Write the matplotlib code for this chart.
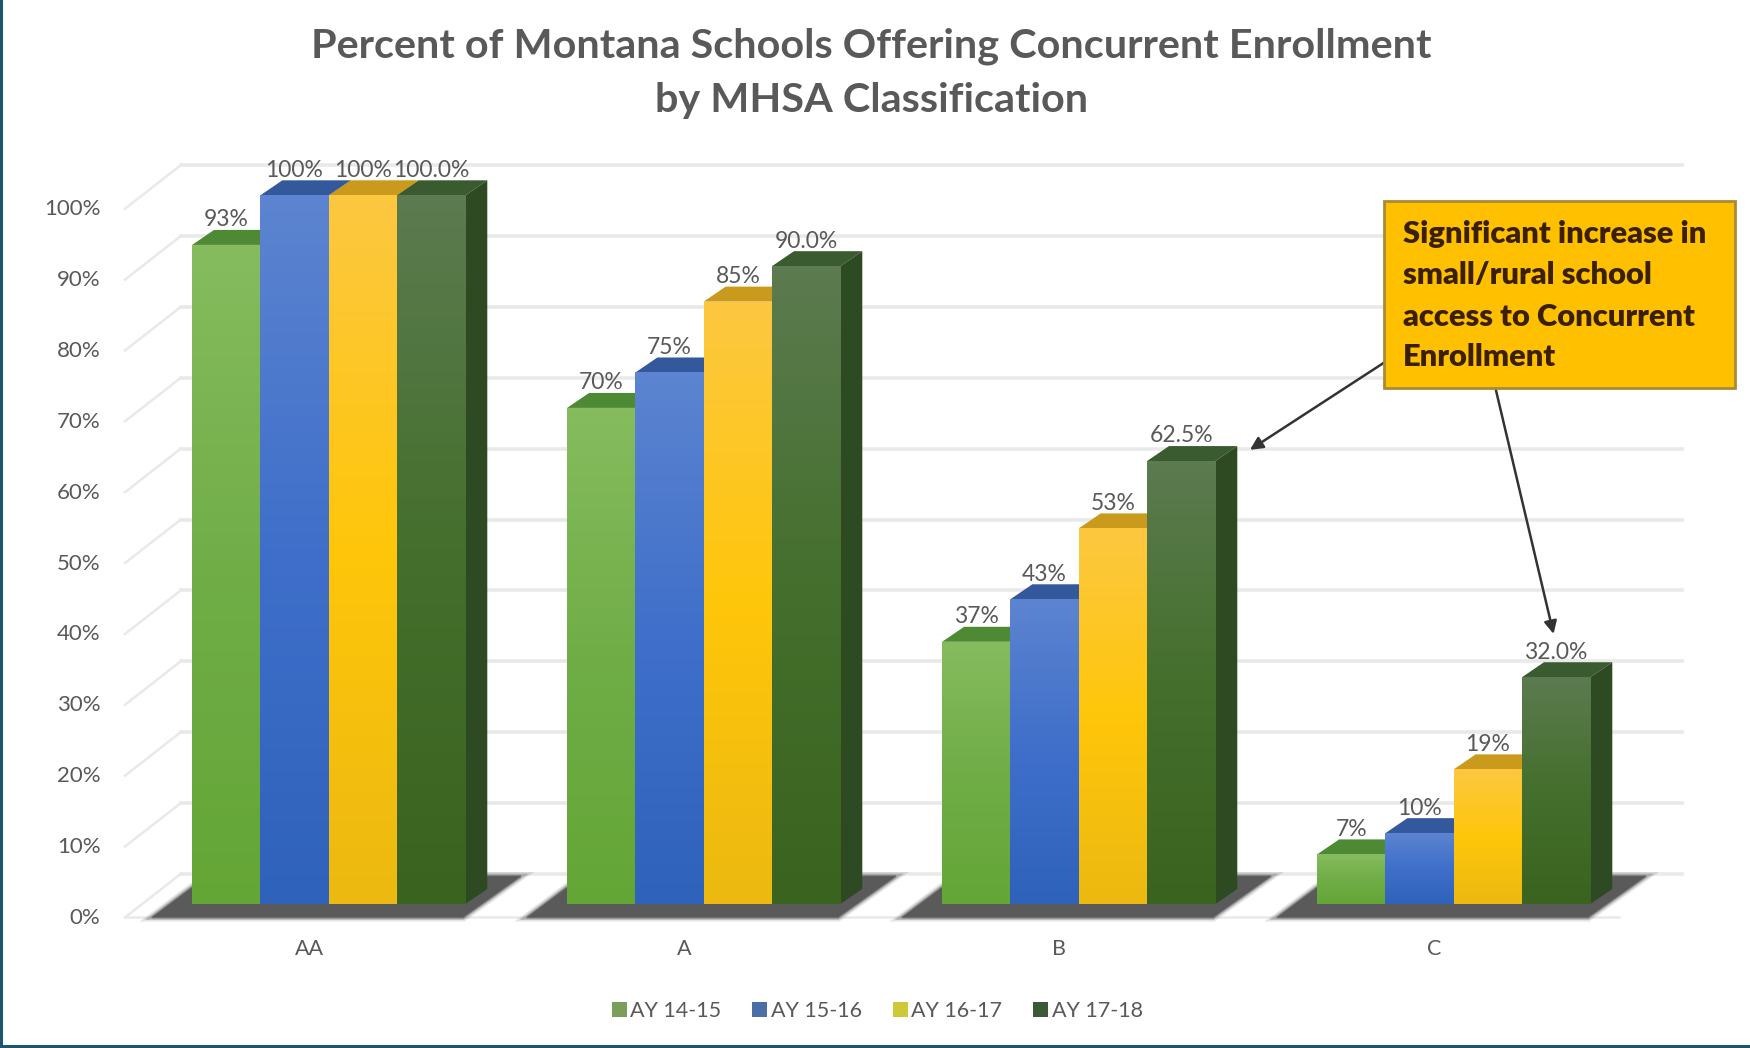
# Percent of Montana schools offering concurrent enrollment, faux 3D columns
import numpy as np
import matplotlib
matplotlib.use('Agg')
import matplotlib.pyplot as plt
from matplotlib.colors import LinearSegmentedColormap
from matplotlib.lines import Line2D
from matplotlib.patches import FancyArrowPatch, Patch, Polygon, Rectangle
from matplotlib.transforms import IdentityTransform

categories = ['AA', 'A', 'B', 'C']
series_names = ['AY 14-15', 'AY 15-16', 'AY 16-17', 'AY 17-18']
ay_14_15 = [93, 70, 37, 7]
ay_15_16 = [100, 75, 43, 10]
ay_16_17 = [100, 85, 53, 19]
ay_17_18 = [100, 90, 62.5, 32]
labels_14_15 = ['93%', '70%', '37%', '7%']
labels_15_16 = ['100%', '75%', '43%', '10%']
labels_16_17 = ['100%', '85%', '53%', '19%']
labels_17_18 = ['100.0%', '90.0%', '62.5%', '32.0%']
y_ticks = [0, 10, 20, 30, 40, 50, 60, 70, 80, 90, 100]

series = [ay_14_15, ay_15_16, ay_16_17, ay_17_18]
series_labels = [labels_14_15, labels_15_16, labels_16_17, labels_17_18]

# top, middle, bottom of the front face
fronts = [['#86bc5e', '#70ad47', '#64a636'],
          ['#5c84d0', '#3f6fca', '#2f62bb'],
          ['#fcc840', '#ffc60a', '#ecb911'],
          ['#5c7b50', '#446f2c', '#3a631f']]
tops = ['#4e8a34', '#34589c', '#c99a1c', '#3a5a30']
sides = ['#47762c', '#2a4f90', '#b98f14', '#2d4a22']
legend_colors = ['#7a9f5a', '#4a6fa8', '#cfc93a', '#3c5a35']

W, H = 1750, 1048
S = W / 1568.0
TEXT = '#595959'
GRID = '#e9e9e9'
DX, DY = 22, 15  # depth of a column, pixels

plt.rcParams['font.family'] = ['Lato', 'DejaVu Sans']

fig = plt.figure(figsize=(W / 100, H / 100), dpi=100)
ax = fig.add_axes([112 / 1568, 1 - 810 * S / H, 1395 / 1568, 635 * S / H])
ax.set_xlim((112 - 294.5) / 336, (1507 - 294.5) / 336)
ax.set_ylim(0, 100)
ax.axis('off')
bar_w = 61.2 / 336


def px(x, v):
    return ax.transData.transform((x, v))


def fpos(x, y):
    return (x * S / W, 1 - y * S / H)


# walls and floor
x_wall0, x_wall1 = ax.get_xlim()
for v in y_ticks:
    x0, y0 = px(x_wall0, v)
    x1, _ = px(x_wall1, v)
    ax.add_line(Line2D([x0, x0 + 50 * S], [y0 - 12 * S, y0 + 27 * S], color=GRID, lw=1.8,
                       transform=IdentityTransform(), clip_on=False))
    ax.add_line(Line2D([x0 + 50 * S, x1], [y0 + 27 * S, y0 + 27 * S], color=GRID, lw=2.6,
                       transform=IdentityTransform(), clip_on=False))
    ax.annotate(f'{v}%', (x_wall0, v), xytext=(-22 * S, -12.5 * S), textcoords='offset pixels',
                ha='right', va='center', fontsize=16, color=TEXT, annotation_clip=False)
x0, y0 = px(x_wall0, 0)
x1, _ = px(3 + 0.44, 0)
ax.add_line(Line2D([x0, x1], [y0 - 12 * S, y0 - 12 * S], color=GRID, lw=1.8,
                   transform=IdentityTransform(), clip_on=False))

# columns
for g, cat in enumerate(categories):
    left, base = px(g - 2 * bar_w, 0)
    right, _ = px(g + 2 * bar_w, 0)
    shadow = [(left - 36 * S, base - 12 * S), (right - 2 * S, base - 12 * S),
              (right + 50 * S, base + 25 * S), (right + 20 * S, base + 25 * S),
              (right, base), (left, base), (left, base + 15 * S)]
    # a few wide see-through outlines so the shadow fades out at its edge
    for lw, a in [(6, 0.15), (3.5, 0.3), (1.5, 0.5)]:
        ax.add_patch(Polygon(shadow, closed=True, fc='none', ec='#4f4f4f', lw=lw, alpha=a,
                             zorder=2, transform=IdentityTransform(), clip_on=False))
    ax.add_patch(Polygon(shadow, closed=True, fc='#5a5a5a', ec='none', zorder=2,
                         transform=IdentityTransform(), clip_on=False))
    ax.annotate(cat, (g, 0), xytext=(-17.5 * S, -40 * S), textcoords='offset pixels',
                ha='center', va='center', fontsize=15.5, color=TEXT, annotation_clip=False)

    for i, vals in enumerate(series):
        v = vals[g]
        xc = g + (i - 1.5) * bar_w
        lx, ty = px(xc - bar_w / 2, v)
        rx, by = px(xc + bar_w / 2, 0)
        ax.add_patch(Polygon([(lx, ty), (rx, ty), (rx + DX, ty + DY), (lx + DX, ty + DY)],
                             closed=True, fc=tops[i], ec='none', zorder=3 + i,
                             transform=IdentityTransform(), clip_on=False))
        ax.add_patch(Polygon([(rx, ty), (rx + DX, ty + DY), (rx + DX, by + DY), (rx, by)],
                             closed=True, fc=sides[i], ec='none', zorder=3 + i,
                             transform=IdentityTransform(), clip_on=False))
        bar = ax.bar(xc, v, width=bar_w, color=fronts[i][1], zorder=3 + i, clip_on=False)[0]
        cmap = LinearSegmentedColormap.from_list('face', fronts[i])
        im = ax.imshow(np.linspace(0, 1, 128).reshape(-1, 1), cmap=cmap, aspect='auto',
                       extent=(xc - bar_w / 2, xc + bar_w / 2, 0, v), zorder=3.5 + i)
        im.set_clip_path(bar)
        ax.annotate(series_labels[i][g], (xc, v), xytext=(0, 22.5 * S), textcoords='offset pixels',
                    ha='center', va='center', fontsize=16.5, color=TEXT, zorder=9,
                    annotation_clip=False)

ax.set_xlim((112 - 294.5) / 336, (1507 - 294.5) / 336)
ax.set_ylim(0, 100)

# title
tx, ty = fpos(780.5, 41)
fig.text(tx, ty, 'Percent of Montana Schools Offering Concurrent Enrollment',
         ha='center', va='center', fontsize=29.8, fontweight='bold', color=TEXT)
tx, ty = fpos(780.5, 90)
fig.text(tx, ty, 'by MHSA Classification',
         ha='center', va='center', fontsize=29.8, fontweight='bold', color=TEXT)

# callout and its arrows
for start, end in [((1240, 325), (1120, 403)), ((1340, 348), (1392, 568))]:
    fig.add_artist(FancyArrowPatch(
        fpos(*start), fpos(*end), transform=fig.transFigure, arrowstyle='-|>',
        mutation_scale=19, lw=1.8, color='#333333', shrinkA=0, shrinkB=0, zorder=11))
bx, by = fpos(1240, 348)
fig.add_artist(Rectangle((bx, by), 315 * S / W, 168 * S / H, transform=fig.transFigure,
                         fc='#ffc000', ec='#a98a35', lw=2, zorder=12))
for line, y in zip(['Significant increase in', 'small/rural school',
                    'access to Concurrent', 'Enrollment'], [210, 246, 284, 320]):
    tx, ty = fpos(1257, y)
    fig.text(tx, ty, line, ha='left', va='center', fontsize=22.2, fontweight='heavy',
             color='#3a2000', zorder=13)

# legend
handles = [Patch(fc=c, ec='none', label=n) for c, n in zip(legend_colors, series_names)]
fig.legend(handles=handles, loc='center', bbox_to_anchor=fpos(786, 906), ncol=4, frameon=False,
           fontsize=15.5, labelcolor=TEXT, handlelength=0.7, handleheight=0.7,
           handletextpad=0.15, columnspacing=1.45)

# slide frame
fig.add_artist(Rectangle((0, 0), 3 / W, 1, transform=fig.transFigure, fc='#1b5570', ec='none'))
fig.add_artist(Rectangle((0, 0), 1, 3 / H, transform=fig.transFigure, fc='#1b5570', ec='none'))

fig.savefig('out.png', dpi=100)
